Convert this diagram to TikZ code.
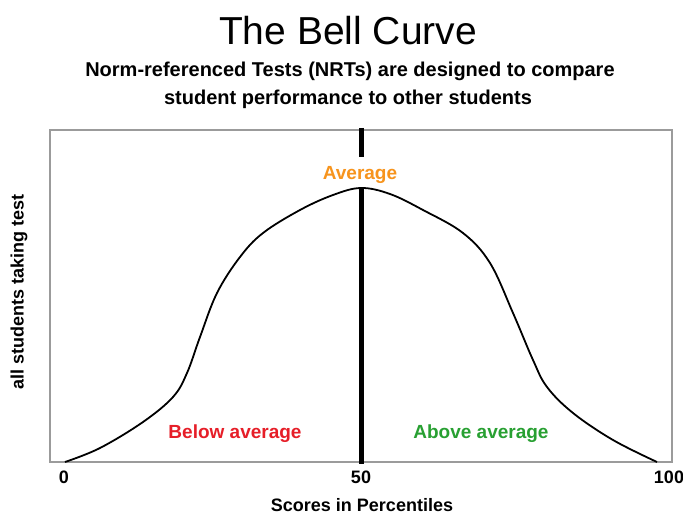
\documentclass[tikz,border=0pt]{standalone}
\usepackage{fontspec}
\setmainfont{Liberation Sans}
\usetikzlibrary{positioning}
\definecolor{belowred}{RGB}{230,30,40}
\definecolor{abovegreen}{RGB}{40,160,50}
\definecolor{avgorange}{RGB}{247,148,29}
\definecolor{framegray}{RGB}{155,155,155}
\tikzset{
    label18/.style={font=\bfseries\fontsize{18}{20}\selectfont, inner sep=0pt, anchor=base},
    zone/.style={font=\bfseries\fontsize{19}{22}\selectfont, inner sep=0pt, anchor=base},
    meanline/.style={line width=5pt},
    bell/.style={line width=1.8pt, line join=round}
}
\begin{document}
\begin{tikzpicture}[x=1pt, y=-1pt]
        \useasboundingbox (0, 0) rectangle (683, 516);
        \fill[white] (0, 0) rectangle (683, 516);
        % titles
        \node[font=\fontsize{39}{44}\selectfont, inner sep=0pt, anchor=base] (title) at (348, 45) {The Bell Curve};
        \node[font=\bfseries\fontsize{20}{24}\selectfont, inner sep=0pt, anchor=base] (sub1) at (350, 77) {Norm-referenced Tests (NRTs) are designed to compare};
        \node[font=\bfseries\fontsize{20}{24}\selectfont, inner sep=0pt, anchor=base] (sub2) at (348, 105) {student performance to other students};
        % frame
        \draw[framegray, line width=1.3pt] (50, 130) rectangle (672, 462);
        % curve
        \draw[bell] plot[smooth, tension=0.6] coordinates {
            (65, 462) (100, 448) (143, 422) (173, 397) (187, 373) (200, 337)
            (217, 293) (240, 257) (263, 233) (300, 210) (333, 195) (361, 188)
            (390, 194) (423, 210) (463, 233) (490, 263) (513, 313) (533, 360)
            (547, 387) (573, 413) (613, 440) (657, 462)};
        % mean line
        \coordinate (top) at (361, 128);
        \coordinate (base) at (361, 464);
        \node[zone, avgorange, anchor=center, minimum height=31pt, text depth=0pt] (avg) at (360, 172.5) {Average};
        \draw[meanline] (top) -- (top |- avg.north);
        \draw[meanline] (base |- avg.south) -- (base);
        \node[zone, belowred] (below) at (235, 438) {Below average};
        \node[zone, abovegreen] (above) at (481, 438) {Above average};
        % axes text
        \node[label18] (p0) at (64, 483) {0};
        \node[label18] (p50) at (361, 483) {50};
        \node[label18] (p100) at (669, 483) {100};
        \node[label18] (xlab) at (362, 511) {Scores in Percentiles};
        \node[label18, rotate=90, anchor=center] (ylab) at (19, 292) {all students taking test};
    \end{tikzpicture}
\end{document}
